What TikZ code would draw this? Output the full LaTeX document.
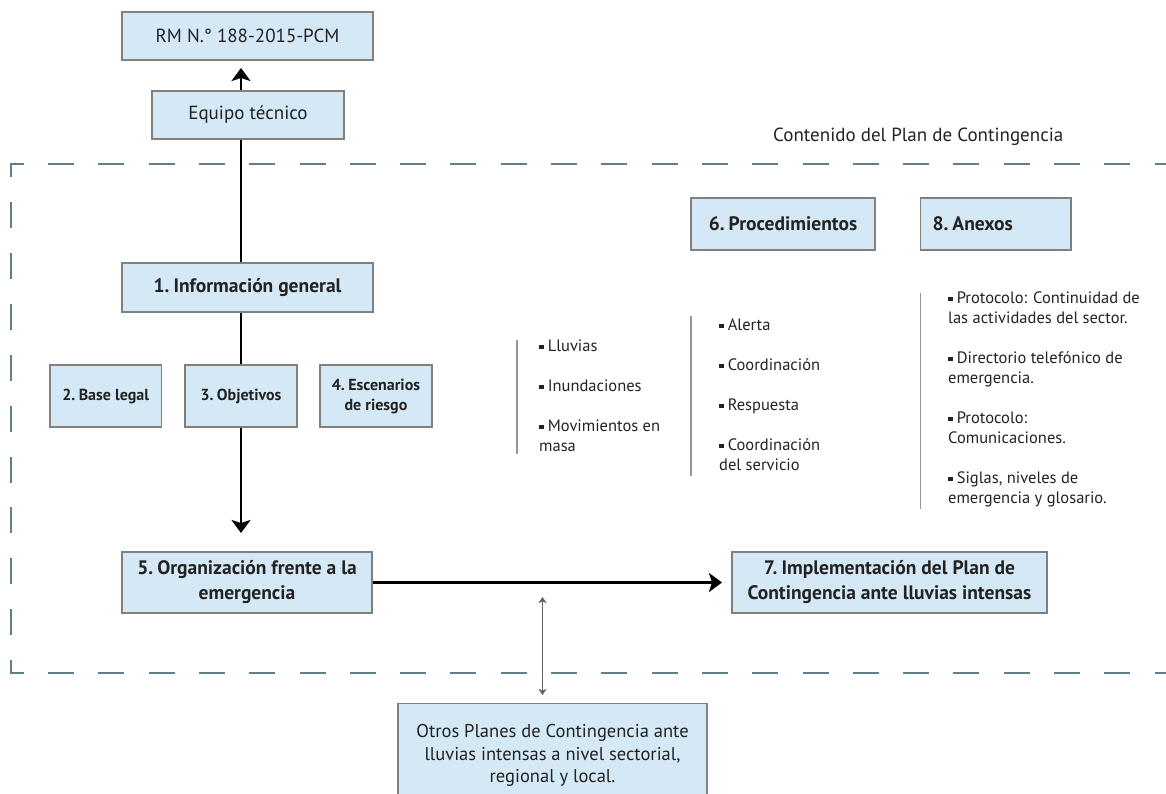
\documentclass[tikz,border=0pt]{standalone}
\usepackage{fontspec}
\setmainfont{PT Sans}
\usetikzlibrary{arrows.meta,calc}
\definecolor{boxfill}{RGB}{212,233,245}
\definecolor{boxline}{RGB}{128,128,128}
\definecolor{txt}{RGB}{34,34,34}
\definecolor{dashc}{RGB}{96,125,139}
\definecolor{rulec}{RGB}{150,150,150}
\definecolor{dblc}{RGB}{100,100,100}
\newcommand\sqbul{\raisebox{0.12em}{\rule{0.28em}{0.28em}}\hspace{0.24em}}
\newcommand\nsp{\hspace{0.21em}}
\tikzset{
  box/.style={draw=boxline, fill=boxfill, line width=1.3pt, inner sep=0pt, text=txt, align=center},
  regf/.style={font=\fontsize{19}{25}\selectfont},
  boldf/.style={font=\fontsize{19.5}{25}\selectfont\bfseries},
  smallbold/.style={font=\fontsize{16}{20}\selectfont\bfseries},
  listtxt/.style={font=\fontsize{16.5}{20}\selectfont, text=txt, align=left, inner sep=0pt, anchor=north west},
  arr/.style={line width=2.4pt, draw=black, -{Stealth[length=13pt,width=19pt,inset=3pt]}},
  spine/.style={line width=2.4pt, draw=black},
  dbl/.style={line width=1.5pt, draw=dblc, {Stealth[length=6pt,width=8pt,inset=1.5pt]}-{Stealth[length=6pt,width=8pt,inset=1.5pt]}},
  vrule/.style={line width=1.3pt, draw=rulec},
  dashln/.style={line width=2pt, draw=dashc},
}
\begin{document}
\begin{tikzpicture}[x=1pt,y=-1pt]
\useasboundingbox (0,0) rectangle (1166,793);
% dashed frame
\draw[dashln] (23.7,164) -- (10.7,164) -- (10.7,177);
\draw[dashln, dash pattern=on 26pt off 24.3pt] (48,164) -- (1166,164);
\draw[dashln, dash pattern=on 26pt off 24.9pt] (10.7,202) -- (10.7,660);
\draw[dashln] (10.7,660) -- (10.7,673) -- (23.7,673);
\draw[dashln, dash pattern=on 26pt off 24.3pt] (48,673) -- (1166,673);

% title
\node[regf, text=txt, anchor=base west, inner sep=0pt] (title) at (773,141.7) {Contenido del Plan de Contingencia};

% boxes
\node[box, regf, minimum width=251pt, minimum height=48pt] (rm) at (247.5,36) {RM N.° 188-2015-PCM};
\node[box, regf, minimum width=192pt, minimum height=48pt] (eq) at (248,115) {Equipo técnico};
\node[box, boldf, minimum width=251pt, minimum height=49pt] (info) at (247.5,287.5) {1.\nsp Información general};
\node[box, smallbold, minimum width=111.5pt, minimum height=62pt] (base) at (105.75,396) {2.\nsp Base legal};
\node[box, smallbold, minimum width=112pt, minimum height=62pt] (obj) at (241,396) {3.\nsp Objetivos};
\node[box, smallbold, minimum width=112pt, minimum height=62pt] (esc) at (376,396) {4.\nsp Escenarios\\de riesgo};
\node[box, boldf, minimum width=184pt, minimum height=52pt] (proc) at (783,224) {6.\nsp Procedimientos};
\node[box, boldf, minimum width=150.5pt, minimum height=52pt, text width=126.5pt, align=left] (anex) at (995.75,224) {8.\nsp Anexos};
\node[box, boldf, minimum width=250pt, minimum height=61pt] (org) at (247,582.5) {5.\nsp Organización frente a la\\emergencia};
\node[box, boldf, minimum width=315pt, minimum height=61pt] (imp) at (889.5,582.5) {7.\nsp Implementación del Plan de\\Contingencia ante lluvias intensas};
\node[box, font=\fontsize{18.5}{22.5}\selectfont, minimum width=309pt, minimum height=104pt, anchor=north] (otros) at (552.5,703) {Otros Planes de Contingencia ante\\lluvias intensas a nivel sectorial,\\regional y local.};

% lists
\node[listtxt] (l1) at (539,339.5) {\sqbul Lluvias\\[20pt]\sqbul Inundaciones\\[20pt]\sqbul Movimientos en\\masa};
\node[listtxt] (l2) at (719,318.5) {\sqbul Alerta\\[20pt]\sqbul Coordinación\\[20pt]\sqbul Respuesta\\[20pt]\sqbul Coordinación\\del servicio};
\node[listtxt] (l3) at (948,291.5) {\sqbul Protocolo: Continuidad de\\las actividades del sector.\\[20pt]\sqbul Directorio telefónico de\\emergencia.\\[20pt]\sqbul Protocolo:\\Comunicaciones.\\[20pt]\sqbul Siglas, niveles de\\emergencia y glosario.};
\coordinate (r1a) at (517,340); \coordinate (r1b) at (517,454);
\coordinate (r2a) at (691,316); \coordinate (r2b) at (691,476);
\coordinate (r3a) at (920.5,293); \coordinate (r3b) at (920.5,509);
\draw[vrule] (r1a) -- (r1b);
\draw[vrule] (r2a) -- (r2b);
\draw[vrule] (r3a) -- (r3b);

% connectors
\coordinate (sp) at (241,0);
\coordinate (rmtip) at (241,68);
\coordinate (orgtip) at (241,533);
\coordinate (imptip) at (722,582.5);
\coordinate (dtop) at (542.5,597);
\coordinate (dbot) at (542.5,695);
\draw[arr] (eq.north -| sp) -- (rmtip);
\draw[spine] (eq.south -| sp) -- (info.north -| sp);
\draw[spine] (info.south -| sp) -- (obj.north);
\draw[arr] (obj.south) -- (orgtip);
\draw[arr] (org.east) -- (imptip);
\draw[dbl] (dtop) -- (dbot);
\end{tikzpicture}
\end{document}
